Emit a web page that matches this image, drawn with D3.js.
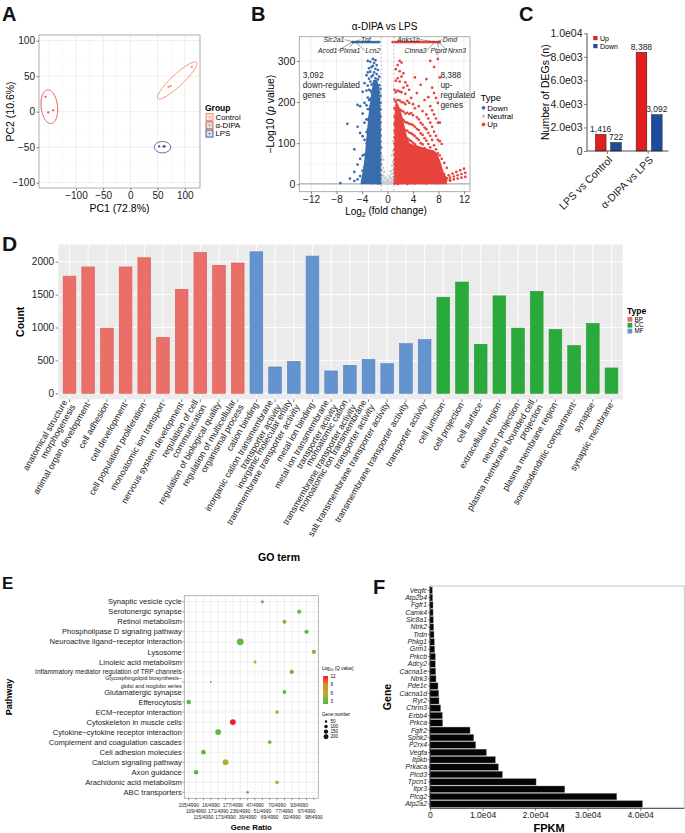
<!DOCTYPE html>
<html>
<head>
<meta charset="utf-8">
<script src="https://cdn.jsdelivr.net/npm/d3@7"></script>
<style>
  body { margin: 0; background: #fff; }
  svg { display: block; font-family: "Liberation Sans", Arial, Helvetica, sans-serif; }
</style>
</head>
<body>
<svg id="fig" width="685" height="833"></svg>
<script>
// ---------------- A: PCA ----------------
const pcaGroups = ["Control", "α-DIPA", "LPS"];
const pcaSampleGroup = ["Control", "Control", "Control", "α-DIPA", "α-DIPA", "α-DIPA", "LPS", "LPS", "LPS"];
const pcaPC1 = [113, 70, 74, -156, -151, -142, 53, 61, 63];
const pcaPC2 = [63, 35, 36, 21, -1, 2, -49, -49, -49];
// group ellipses (PC units): centre, semi axes, angle
const ellCentrePC1 = [86, -149, 59];
const ellCentrePC2 = [44, 7, -50];
const ellSemiMajor = [44, 24, 15];
const ellSemiMinor = [9, 15, 8];
const ellAngle = [35, 100, 0];

// ---------------- B: volcano ----------------
// columns of points: [log2 fold change, [-log10 p values]]
const downCols = [
  [-1.1, [3, 12, 22, 35, 48, 60, 75, 90, 104, 118, 133, 150, 165, 182, 198, 215, 232]],
  [-1.3, [6, 17, 28, 41, 55, 68, 82, 97, 112, 127, 141, 157, 173, 189, 206, 224, 241, 262]],
  [-1.5, [2, 14, 25, 37, 51, 64, 79, 93, 108, 122, 137, 152, 168, 185, 201, 219, 236, 255, 278]],
  [-1.7, [9, 20, 32, 45, 58, 72, 86, 101, 116, 130, 146, 161, 177, 194, 210, 228, 247, 268, 290]],
  [-1.9, [4, 15, 27, 40, 53, 67, 81, 95, 110, 125, 139, 155, 171, 187, 204, 221, 239, 258, 281, 302]],
  [-2.1, [11, 23, 36, 49, 62, 77, 91, 106, 120, 135, 150, 166, 182, 199, 216, 233, 251, 272, 295]],
  [-2.3, [7, 19, 31, 44, 57, 71, 85, 99, 114, 129, 144, 160, 176, 192, 209, 226, 245, 265, 288, 305]],
  [-2.5, [3, 16, 29, 43, 59, 74, 90, 105, 121, 137, 153, 170, 187, 205, 223, 242, 262, 285]],
  [-2.7, [10, 24, 38, 53, 69, 85, 101, 118, 135, 152, 170, 189, 208, 228, 250, 274, 298]],
  [-2.9, [6, 20, 35, 51, 68, 86, 104, 123, 142, 162, 183, 205, 230, 257, 282]],
  [-3.1, [13, 30, 48, 67, 88, 110, 133, 157, 183, 211, 240, 272, 300]],
  [-3.3, [8, 27, 49, 73, 99, 127, 158, 192, 228, 265]],
  [-3.6, [15, 41, 72, 108, 150, 198, 246]],
  [-3.9, [5, 33, 70, 117, 172, 225]],
  [-4.3, [20, 62, 125, 190]],
  [-4.7, [12, 48, 140, 193]],
  [-5.2, [8, 30, 85]],
  [-5.9, [14]],
  [-6.3, [147]],
  [-7.4, [3]]
];
const upCols = [
  [1.1, [2, 10, 19, 28, 38, 49, 60, 72, 85, 99, 114, 130, 147, 165, 185, 206, 230]],
  [1.3, [5, 14, 24, 34, 45, 56, 68, 81, 95, 110, 126, 143, 161, 180, 201, 224, 252, 280]],
  [1.6, [1, 9, 18, 27, 37, 48, 59, 71, 84, 98, 113, 129, 146, 164, 184, 205, 228, 258, 290]],
  [1.9, [6, 15, 25, 35, 46, 57, 69, 82, 96, 111, 127, 144, 162, 182, 204, 226, 250, 275, 300]],
  [2.2, [3, 12, 22, 32, 43, 54, 66, 79, 93, 108, 124, 141, 159, 179, 200, 224, 262, 296]],
  [2.5, [8, 17, 27, 38, 50, 62, 75, 89, 104, 120, 137, 156, 177, 199, 235, 270]],
  [2.8, [4, 13, 23, 34, 45, 57, 70, 84, 99, 115, 132, 151, 172, 195, 220, 248]],
  [3.1, [1, 10, 20, 30, 41, 53, 66, 80, 95, 112, 130, 150, 174, 203, 240]],
  [3.4, [6, 15, 26, 37, 49, 62, 76, 91, 108, 126, 147, 171, 198, 230]],
  [3.7, [3, 12, 22, 33, 45, 58, 72, 88, 105, 124, 146, 173, 210]],
  [4.0, [8, 18, 29, 41, 54, 68, 84, 101, 121, 144, 168, 195]],
  [4.3, [2, 13, 24, 36, 49, 63, 79, 97, 117, 140, 185, 260]],
  [4.6, [7, 18, 30, 43, 57, 73, 91, 112, 135, 163, 222]],
  [4.9, [4, 14, 26, 39, 53, 69, 87, 108, 132, 158, 190]],
  [5.2, [9, 20, 33, 47, 62, 80, 100, 124, 150, 242]],
  [5.5, [3, 15, 28, 42, 58, 76, 97, 120, 145, 178]],
  [5.8, [8, 21, 35, 51, 68, 88, 112, 138, 205]],
  [6.1, [2, 14, 28, 44, 62, 82, 106, 134, 170, 256]],
  [6.4, [6, 20, 36, 54, 74, 98, 125, 160, 212]],
  [6.7, [10, 26, 44, 65, 90, 118, 150, 190, 300]],
  [7.0, [4, 18, 35, 56, 80, 108, 140, 180, 235]],
  [7.3, [9, 25, 45, 68, 95, 128, 170, 222, 285]],
  [7.6, [3, 17, 36, 58, 85, 118, 160, 210]],
  [7.9, [8, 26, 48, 75, 108, 150, 198, 305]],
  [8.2, [5, 20, 42, 70, 105, 150, 260]],
  [8.5, [12, 34, 62, 98]],
  [8.9, [7, 25, 52]],
  [9.3, [15, 40]],
  [9.8, [9]]
];
const upTail = [
  [8.6, 6], [9.2, 8], [9.8, 10], [10.4, 12], [11.0, 14], [11.6, 16], [12.2, 18],
  [8.6, 10], [9.2, 13], [9.8, 16], [10.4, 19], [11.0, 22], [11.6, 25], [12.2, 28],
  [8.4, 14], [9.0, 18], [9.6, 22], [10.2, 26], [10.8, 30], [11.4, 34], [12.0, 38]
];
const neutralCols = [
  [-0.9, [4, 18, 33, 50, 68, 88]], [-0.7, [8, 22, 40, 60]], [-0.5, [3, 14, 30]],
  [-0.3, [6, 16]], [-0.1, [2, 9]], [0.1, [4, 11]], [0.3, [2, 8, 20]],
  [0.5, [5, 15, 32]], [0.7, [9, 25, 45, 70]], [0.9, [3, 16, 34, 55, 80, 105]]
];
// outline of the saturated (overplotted) cores of each cloud
const downCoreFC = [-4.2, -3.9, -3.6, -3.3, -3.0, -2.7, -2.4, -2.1, -1.8, -1.5, -1.2, -1.05];
const downCoreTop = [8, 30, 65, 115, 165, 205, 235, 250, 255, 245, 215, 150];
const upCoreFC = [1.05, 1.3, 1.8, 2.4, 3.0, 3.5, 4.5, 5.5, 6.5, 7.5, 8.2, 8.8, 9.3];
const upCoreTop = [150, 200, 190, 160, 120, 100, 95, 90, 85, 80, 60, 30, 10];
const capValue = 346;
const downCapX = [-5.5, -5.3, -5.05, -4.8, -4.55, -4.3, -4.1, -3.85, -3.6, -3.35, -3.1, -2.9, -2.65, -2.4, -2.2, -1.95, -1.7, -1.5, -1.3];
const upCapX = [0.8, 1.05, 1.3, 1.55, 1.8, 2.05, 2.3, 2.6, 2.85, 3.1, 3.35, 3.6, 3.9, 4.15, 4.4, 4.65, 4.9, 5.2, 5.45, 5.7, 5.95, 6.2, 6.5, 6.75, 7.0, 7.25, 7.5, 7.75, 8.0, 8.2];
const volGenes = ["Slc2a1", "Tnf", "Acod1", "Plxna1", "Lcn2", "Anks1b", "Dmd", "Ctnna3", "Ptprd", "Nrxn3"];
const volGeneFC = [-5.4, -5.2, -5.5, -5.3, -5.0, 7.5, 7.7, 7.4, 7.8, 8.0];
const volLabelFC = [-8.4, -3.4, -9.4, -5.9, -2.3, 3.3, 9.8, 4.4, 8.0, 10.9];
const volLabelP = [352, 352, 325, 325, 325, 352, 352, 325, 325, 325];
const degTypes = ["Down", "Neutral", "Up"];
const nDown = 3092, nUp = 8388;

// ---------------- C: DEG counts ----------------
const degComparisons = ["LPS vs Control", "α-DIPA vs LPS"];
const degDirections = ["Up", "Down"];
const degUp = [1416, 8388];
const degDown = [722, 3092];

// ---------------- D: GO terms ----------------
const goTerms = [
  "anatomical structure\nmorphogenesis", "animal organ development", "cell adhesion", "cell development",
  "cell population proliferation", "monoatomic ion transport", "nervous system development",
  "regulation of cell\ncommunication", "regulation of biological quality", "regulation of multicellular\norganismal process",
  "cation binding", "inorganic cation transmembrane\ntransporter activity", "inorganic molecular entity\ntransmembrane transporter activity",
  "metal ion binding", "metal ion transmembrane\ntransporter activity", "monoatomic cation\ntransmembrane transporter activity",
  "monoatomic ion transmembrane\ntransporter activity", "salt transmembrane transporter activity",
  "transmembrane transporter activity", "transporter activity",
  "cell junction", "cell projection", "cell surface", "extracellular region", "neuron projection",
  "plasma membrane bounded cell\nprojection", "plasma membrane region", "somatodendritic compartment", "synapse", "synaptic membrane"
];
const goCounts = [1780, 1920, 990, 1920, 2060, 850, 1580, 2140, 1945, 1980,
                  2150, 400, 485, 2085, 340, 425, 515, 450, 755, 815,
                  1460, 1690, 745, 1480, 990, 1550, 970, 725, 1060, 385];
const goTypes = ["BP", "BP", "BP", "BP", "BP", "BP", "BP", "BP", "BP", "BP",
                 "MF", "MF", "MF", "MF", "MF", "MF", "MF", "MF", "MF", "MF",
                 "CC", "CC", "CC", "CC", "CC", "CC", "CC", "CC", "CC", "CC"];
const goTypeLevels = ["BP", "CC", "MF"];

// ---------------- E: KEGG enrichment ----------------
const keggPathways = [
  "Synaptic vesicle cycle", "Serotonergic synapse", "Retinol metabolism", "Phospholipase D signaling pathway",
  "Neuroactive ligand−receptor interaction", "Lysosome", "Linoleic acid metabolism",
  "Inflammatory mediator regulation of TRP channels", "Glycosphingolipid biosynthesis−\nglobo and isoglobo series",
  "Glutamatergic synapse", "Efferocytosis", "ECM−receptor interaction", "Cytoskeleton in muscle cells",
  "Cytokine−cytokine receptor interaction", "Complement and coagulation cascades", "Cell adhesion molecules",
  "Calcium signaling pathway", "Axon guidance", "Arachidonic acid metabolism", "ABC transporters"
];
const keggGenes = [51, 93, 77, 97, 236, 98, 47, 92, 16, 77, 105, 70, 177, 171, 69, 115, 173, 109, 70, 39];
const keggLogQ = [2.3, 2.6, 4.2, 2.8, 2.9, 4.0, 5.5, 3.0, 2.0, 2.8, 2.4, 5.2, 12.3, 2.6, 3.3, 2.6, 6.0, 2.5, 5.3, 2.4];
const keggBackground = 4990;
const keggRatioLevels = ["105/4990", "109/4990", "115/4990", "16/4990", "171/4990", "173/4990", "177/4990",
  "236/4990", "39/4990", "47/4990", "51/4990", "69/4990", "70/4990", "77/4990", "92/4990", "93/4990", "97/4990", "98/4990"];
const keggSizeBreaks = [50, 100, 150, 200];
const keggColourBreaks = [3, 6, 9, 12];

// ---------------- F: FPKM ----------------
const fpkmGenes = ["Vegfc", "Atp2b4", "Fgfr1", "Camk4", "Slc8a1", "Ntrk2", "Trdn", "Phkg1", "Grm1", "Prkcb",
  "Adcy2", "Cacna1e", "Ntrk3", "Pde1c", "Cacna1d", "Ryr2", "Chrm3", "Erbb4", "Prkca", "Fgfr2",
  "Sphk2", "P2rx4", "Vegfa", "Itpkb", "Prkaca", "Plcd3", "Tpcn1", "Itpr3", "Plcg2", "Atp2a2"];
const fpkmValues = [450, 500, 570, 580, 630, 700, 760, 825, 890, 1010,
  1010, 1080, 1140, 1520, 1650, 1715, 2030, 2350, 2410, 7620,
  8320, 8700, 10730, 12440, 13020, 13780, 20190, 25650, 35550, 40440];

// =====================================================================
const svg = d3.select("#fig");
svg.append("rect").attr("width", 685).attr("height", 833).attr("fill", "#fff");

function panelLetter(t, x, y, size) {
  svg.append("text").attr("x", x).attr("y", y).text(t)
    .style("font-size", size + "px").style("font-weight", "bold").attr("fill", "#111");
}
function styleAxis(g, size) {
  g.attr("font-family", null).attr("font-size", null);
  g.select(".domain").remove();
  g.selectAll(".tick line").attr("stroke", "#333").attr("stroke-width", 0.6);
  g.selectAll(".tick text").style("font-size", size + "px").attr("fill", "#222");
}
function gridLines(g, xs, ys, xVals, yVals, x0, x1, y0, y1, colour, w) {
  g.selectAll(null).data(xVals).enter().append("line")
    .attr("x1", d => xs(d)).attr("x2", d => xs(d)).attr("y1", y0).attr("y2", y1)
    .attr("stroke", colour).attr("stroke-width", w);
  g.selectAll(null).data(yVals).enter().append("line")
    .attr("y1", d => ys(d)).attr("y2", d => ys(d)).attr("x1", x0).attr("x2", x1)
    .attr("stroke", colour).attr("stroke-width", w);
}

// ---------------- A ----------------
(function () {
  const L = 39, R = 200, T = 35, B = 188;
  const x = d3.scaleLinear().domain([-168, 128]).range([L, R]);
  const y = d3.scaleLinear().domain([-107.5, 108]).range([B, T]);
  const col = d3.scaleOrdinal().domain(pcaGroups).range(["#F4895D", "#E8464B", "#3C4B8D"]);
  const keyFill = d3.scaleOrdinal().domain(pcaGroups).range(["#FBE2D7", "#CDE9DC", "#DCE0F1"]);
  const g = svg.append("g");

  g.append("rect").attr("x", L).attr("y", T).attr("width", R - L).attr("height", B - T).attr("fill", "#fff");
  gridLines(g, x, y, [-150, -125, -75, -25, 25, 75, 125], [-75, -25, 25, 75], L, R, T, B, "#f3f3f3", 0.5);
  gridLines(g, x, y, [-100, -50, 0, 50, 100], [-100, -50, 0, 50, 100], L, R, T, B, "#e6e6e6", 0.7);

  pcaGroups.forEach((grp, i) => {
    const th = ellAngle[i] * Math.PI / 180, pts = [];
    for (let k = 0; k <= 90; k++) {
      const t = k / 90 * 2 * Math.PI;
      const a = ellSemiMajor[i] * Math.cos(t), b = ellSemiMinor[i] * Math.sin(t);
      pts.push([x(ellCentrePC1[i] + a * Math.cos(th) - b * Math.sin(th)),
                y(ellCentrePC2[i] + a * Math.sin(th) + b * Math.cos(th))]);
    }
    g.append("path").attr("d", d3.line()(pts)).attr("fill", "none")
      .attr("stroke", col(grp)).attr("stroke-width", 0.9);
  });

  g.selectAll("circle.pt").data(pcaPC1).enter().append("circle")
    .attr("cx", (d, i) => x(d)).attr("cy", (d, i) => y(pcaPC2[i])).attr("r", 1.1)
    .attr("fill", (d, i) => col(pcaSampleGroup[i]));

  g.append("rect").attr("x", L).attr("y", T).attr("width", R - L).attr("height", B - T)
    .attr("fill", "none").attr("stroke", "#9a9a9a").attr("stroke-width", 0.8);

  const ax = g.append("g").attr("transform", `translate(0,${B})`)
    .call(d3.axisBottom(x).tickValues([-100, -50, 0, 50, 100]).tickSize(2.5).tickPadding(1.5));
  styleAxis(ax, 10);
  const ay = g.append("g").attr("transform", `translate(${L},0)`)
    .call(d3.axisLeft(y).tickValues([-100, -50, 0, 50, 100]).tickSize(2.5).tickPadding(1.5));
  styleAxis(ay, 10);

  g.append("text").attr("x", (L + R) / 2).attr("y", 212).attr("text-anchor", "middle")
    .style("font-size", "10.5px").text("PC1 (72.8%)");
  g.append("text").attr("transform", `translate(14,${(T + B) / 2}) rotate(-90)`).attr("text-anchor", "middle")
    .style("font-size", "10.5px").text("PC2 (10.6%)");

  g.append("text").attr("x", 205).attr("y", 111).style("font-size", "8.5px").style("font-weight", "bold").text("Group");
  pcaGroups.forEach((grp, i) => {
    const yy = 113.5 + i * 8.3;
    g.append("rect").attr("x", 206).attr("y", yy).attr("width", 7).attr("height", 7)
      .attr("fill", keyFill(grp)).attr("stroke", col(grp)).attr("stroke-width", 0.9);
    g.append("circle").attr("cx", 209.5).attr("cy", yy + 3.5).attr("r", 0.8).attr("fill", col(grp));
    g.append("text").attr("x", 215.5).attr("y", yy + 3.5).attr("dy", "0.35em")
      .style("font-size", "7.8px").text(grp);
  });
  panelLetter("A", 2, 21, 20);
})();

// ---------------- B ----------------
(function () {
  const L = 299.3, R = 470, T = 36.7, B = 191.7;
  const x = d3.scaleLinear().domain([-13.84, 12.94]).range([L, R]);
  const y = d3.scaleLinear().domain([-18, 359]).range([B, T]);
  const col = d3.scaleOrdinal().domain(degTypes).range(["#3A6DAE", "#C8CDD5", "#E8433D"]);
  const g = svg.append("g");

  g.append("defs").append("clipPath").attr("id", "clipB").append("rect")
    .attr("x", L).attr("y", T).attr("width", R - L).attr("height", B - T);
  g.append("rect").attr("x", L).attr("y", T).attr("width", R - L).attr("height", B - T).attr("fill", "#fff");
  gridLines(g, x, y, [-10, -6, -2, 2, 6, 10], [50, 150, 250, 350], L, R, T, B, "#f3f3f3", 0.5);
  gridLines(g, x, y, [-12, -8, -4, 0, 4, 8, 12], [0, 100, 200, 300], L, R, T, B, "#e6e6e6", 0.7);

  const flat = cols => cols.flatMap(c => c[1].map(v => [c[0], v]));
  const pts = [];
  flat(neutralCols).forEach(p => pts.push({ fc: p[0], p: p[1], t: "Neutral" }));
  flat(downCols).forEach(p => pts.push({ fc: p[0], p: p[1], t: "Down" }));
  flat(upCols).forEach(p => pts.push({ fc: p[0], p: p[1], t: "Up" }));
  upTail.forEach(p => pts.push({ fc: p[0], p: p[1], t: "Up" }));
  downCapX.forEach(v => pts.push({ fc: v, p: capValue, t: "Down" }));
  upCapX.forEach(v => pts.push({ fc: v, p: capValue, t: "Up" }));

  const pg = g.append("g").attr("clip-path", "url(#clipB)");
  pg.append("line").attr("x1", L).attr("x2", R).attr("y1", y(1.3)).attr("y2", y(1.3))
    .attr("stroke", "#b9bec6").attr("stroke-width", 1.6);
  const core = d3.area().x(d => x(d[0])).y0(y(0)).y1(d => y(d[1])).curve(d3.curveMonotoneX);
  pg.append("path").attr("d", core(downCoreFC.map((v, i) => [v, downCoreTop[i]])))
    .attr("fill", col("Down"));
  pg.append("path").attr("d", core(upCoreFC.map((v, i) => [v, upCoreTop[i]])))
    .attr("fill", col("Up"));
  pg.selectAll("circle").data(pts).enter().append("circle")
    .attr("cx", d => x(d.fc)).attr("cy", d => y(d.p)).attr("r", 1.35)
    .attr("fill", d => col(d.t));
  [-1, 1].forEach(v => pg.append("line").attr("x1", x(v)).attr("x2", x(v)).attr("y1", T).attr("y2", B)
    .attr("stroke", "#8a8a8a").attr("stroke-width", 0.6).attr("stroke-dasharray", "2,2"));

  // gene labels with leader lines
  volGenes.forEach((gn, i) => {
    const t = g.append("text").attr("x", x(volLabelFC[i])).attr("y", y(volLabelP[i])).attr("dy", "0.35em")
      .attr("text-anchor", "middle").style("font-size", "6.8px").style("font-style", "italic")
      .attr("fill", "#222").text(gn);
    const w = t.node().getComputedTextLength();
    const lx = x(volLabelFC[i]), ly = y(volLabelP[i]);
    const px = x(volGeneFC[i]), py = y(capValue);
    let sx, sy;
    if (px > lx + w / 2) { sx = lx + w / 2 + 0.5; sy = ly; }
    else if (px < lx - w / 2) { sx = lx - w / 2 - 0.5; sy = ly; }
    else { sx = lx; sy = ly + (py > ly ? 3.5 : -3.5); }
    g.append("line").attr("x1", sx).attr("y1", sy).attr("x2", px).attr("y2", py)
      .attr("stroke", "#444").attr("stroke-width", 0.5);
  });

  const noteL = g.append("text").attr("x", x(-13.3)).attr("y", y(266)).style("font-size", "8.3px").attr("fill", "#222");
  [d3.format(",")(nDown), "down-regulated", "genes"].forEach((s, i) =>
    noteL.append("tspan").attr("x", x(-13.3)).attr("dy", i ? "1.2em" : "0.35em").text(s));
  const noteR = g.append("text").attr("x", x(8.3)).attr("y", y(266)).style("font-size", "8.3px").attr("fill", "#222");
  [d3.format(",")(nUp), "up-", "regulated", "genes"].forEach((s, i) =>
    noteR.append("tspan").attr("x", x(8.3)).attr("dy", i ? "1.2em" : "0.35em").text(s));

  g.append("rect").attr("x", L).attr("y", T).attr("width", R - L).attr("height", B - T)
    .attr("fill", "none").attr("stroke", "#9a9a9a").attr("stroke-width", 0.8);
  const ax = g.append("g").attr("transform", `translate(0,${B})`)
    .call(d3.axisBottom(x).tickValues([-12, -8, -4, 0, 4, 8, 12]).tickSize(2.5).tickPadding(1.5));
  styleAxis(ax, 10);
  const ay = g.append("g").attr("transform", `translate(${L},0)`)
    .call(d3.axisLeft(y).tickValues([0, 100, 200, 300]).tickSize(2.5).tickPadding(1.5));
  styleAxis(ay, 10.5);

  g.append("text").attr("x", (L + R) / 2).attr("y", 30).attr("text-anchor", "middle")
    .style("font-size", "10px").text("α-DIPA vs LPS");
  const xt = g.append("text").attr("x", 386).attr("y", 215).attr("text-anchor", "middle").style("font-size", "10px");
  xt.append("tspan").text("Log");
  xt.append("tspan").attr("dy", "0.3em").style("font-size", "7px").text("2");
  xt.append("tspan").attr("dy", "-0.3em").text(" (fold change)");
  const yt = g.append("text").attr("transform", `translate(274,${(T + B) / 2}) rotate(-90)`)
    .attr("text-anchor", "middle").style("font-size", "10.5px");
  yt.append("tspan").text("−Log10 (");
  yt.append("tspan").style("font-style", "italic").text("p");
  yt.append("tspan").text(" value)");

  g.append("text").attr("x", 480.5).attr("y", 101).style("font-size", "9.5px").text("Type");
  degTypes.forEach((t, i) => {
    const yy = 107.8 + i * 8.3;
    g.append("circle").attr("cx", 483.5).attr("cy", yy).attr("r", 1.9).attr("fill", col(t));
    g.append("text").attr("x", 487.3).attr("y", yy).attr("dy", "0.35em").style("font-size", "8px").text(t);
  });
  panelLetter("B", 251, 21, 20);
})();

// ---------------- C ----------------
(function () {
  const L = 587, R = 668.5, T = 33.3, B = 151;
  const x = d3.scalePoint().domain(degComparisons).range([L, R]).padding(0.5);
  const sub = d3.scaleBand().domain(degDirections).range([-12, 14]).paddingInner(0.3);
  const y = d3.scaleLinear().domain([0, 10000]).range([B, T]);
  const col = d3.scaleOrdinal().domain(degDirections).range(["#E11F1F", "#1D4C9D"]);
  const g = svg.append("g");
  const rows = degComparisons.flatMap((c, i) => [
    { c: c, dir: "Up", v: degUp[i] }, { c: c, dir: "Down", v: degDown[i] }]);

  g.selectAll("rect.bar").data(rows).enter().append("rect")
    .attr("x", d => x(d.c) + sub(d.dir)).attr("width", sub.bandwidth())
    .attr("y", d => y(d.v)).attr("height", d => B - y(d.v))
    .attr("fill", d => col(d.dir)).attr("stroke", "#222").attr("stroke-width", 0.5);
  g.selectAll("text.val").data(rows).enter().append("text")
    .attr("x", d => x(d.c) + sub(d.dir) + sub.bandwidth() / 2).attr("y", d => y(d.v) - 2.3)
    .attr("text-anchor", "middle").style("font-size", "8.5px").attr("fill", "#222")
    .text(d => d3.format(",")(d.v));

  const fmt = d => d === 0 ? "0" : d.toExponential(1).replace("e+", "e0");
  const ay = g.append("g").attr("transform", `translate(${L},0)`)
    .call(d3.axisLeft(y).tickValues([0, 2000, 4000, 6000, 8000, 10000]).tickFormat(fmt).tickSize(3).tickPadding(1.5));
  styleAxis(ay, 10.5);
  g.append("line").attr("x1", L).attr("x2", L).attr("y1", T).attr("y2", B).attr("stroke", "#222").attr("stroke-width", 0.8);
  g.append("line").attr("x1", L).attr("x2", R).attr("y1", B).attr("y2", B).attr("stroke", "#222").attr("stroke-width", 0.8);
  degComparisons.forEach(c => {
    g.append("line").attr("x1", x(c)).attr("x2", x(c)).attr("y1", B).attr("y2", B + 3).attr("stroke", "#333").attr("stroke-width", 0.6);
    g.append("text").attr("transform", `translate(${x(c) + 3},${B + 7}) rotate(-45)`)
      .attr("text-anchor", "end").attr("dy", "0.35em").style("font-size", "10.5px").attr("fill", "#222").text(c);
  });
  g.append("text").attr("transform", `translate(549,${(T + B) / 2}) rotate(-90)`).attr("text-anchor", "middle")
    .style("font-size", "10.5px").text("Number of DEGs (n)");
  degDirections.forEach((d, i) => {
    g.append("rect").attr("x", 593.3).attr("y", 36 + i * 8).attr("width", 4.2).attr("height", 4.2).attr("fill", col(d));
    g.append("text").attr("x", 600).attr("y", 38.1 + i * 8).attr("dy", "0.35em").style("font-size", "7px").text(d);
  });
  panelLetter("C", 519, 21, 20);
})();

// ---------------- D ----------------
(function () {
  const L = 58.3, R = 622.7, T = 244.3, B = 399.3;
  const x = d3.scaleBand().domain(goTerms).range([L, R]).paddingInner(0.32).paddingOuter(0.26);
  const y = d3.scaleLinear().domain([-91, 2264]).range([B, T]);
  const col = d3.scaleOrdinal().domain(goTypeLevels).range(["#EA6F68", "#2BAA3C", "#6394CF"]);
  const edge = d3.scaleOrdinal().domain(goTypeLevels).range(["#DD5B54", "#229A33", "#4F80C2"]);
  const g = svg.append("g");

  g.append("rect").attr("x", L).attr("y", T).attr("width", R - L).attr("height", B - T).attr("fill", "#EBEBEB");
  g.selectAll("line.hmin").data([250, 750, 1250, 1750, 2250]).enter().append("line")
    .attr("x1", L).attr("x2", R).attr("y1", d => y(d)).attr("y2", d => y(d)).attr("stroke", "#f5f5f5").attr("stroke-width", 0.5);
  g.selectAll("line.hmaj").data([0, 500, 1000, 1500, 2000]).enter().append("line")
    .attr("x1", L).attr("x2", R).attr("y1", d => y(d)).attr("y2", d => y(d)).attr("stroke", "#fff").attr("stroke-width", 0.9);
  g.selectAll("line.vmaj").data(goTerms).enter().append("line")
    .attr("x1", d => x(d) + x.bandwidth() / 2).attr("x2", d => x(d) + x.bandwidth() / 2)
    .attr("y1", T).attr("y2", B).attr("stroke", "#fff").attr("stroke-width", 0.9);

  g.selectAll("rect.bar").data(goTerms).enter().append("rect")
    .attr("x", d => x(d)).attr("width", x.bandwidth())
    .attr("y", (d, i) => y(goCounts[i])).attr("height", (d, i) => y(0) - y(goCounts[i]))
    .attr("fill", (d, i) => col(goTypes[i])).attr("stroke", (d, i) => edge(goTypes[i])).attr("stroke-width", 0.6);

  const ay = g.append("g").attr("transform", `translate(${L},0)`)
    .call(d3.axisLeft(y).tickValues([0, 500, 1000, 1500, 2000]).tickFormat(d3.format("d")).tickSize(2.7).tickPadding(1.5));
  styleAxis(ay, 10);

  goTerms.forEach(t => {
    const cx = x(t) + x.bandwidth() / 2;
    g.append("line").attr("x1", cx).attr("x2", cx).attr("y1", B).attr("y2", B + 2.7).attr("stroke", "#333").attr("stroke-width", 0.6);
    const lines = t.split("\n");
    const tx = g.append("text").attr("transform", `translate(${cx - 0.5},${B + 3.5}) rotate(-60)`)
      .attr("text-anchor", "end").style("font-size", "8.9px").attr("fill", "#222");
    lines.forEach((s, i) => tx.append("tspan").attr("x", 0)
      .attr("y", 0).attr("dy", ((i - (lines.length - 1) / 2) * 1.05 + 0.35) + "em").text(s));
  });

  g.append("text").attr("transform", `translate(24,${(T + B) / 2}) rotate(-90)`).attr("text-anchor", "middle")
    .style("font-size", "10.5px").style("font-weight", "bold").text("Count");
  g.append("text").attr("x", 279).attr("y", 561).attr("text-anchor", "middle")
    .style("font-size", "10.5px").style("font-weight", "bold").text("GO term");

  g.append("text").attr("x", 627).attr("y", 313.5).style("font-size", "8.5px").style("font-weight", "bold").text("Type");
  goTypeLevels.forEach((t, i) => {
    const yy = 319.3 + i * 5.9;
    g.append("rect").attr("x", 627.5).attr("y", yy - 2.4).attr("width", 4.8).attr("height", 4.8).attr("fill", col(t));
    g.append("text").attr("x", 634.5).attr("y", yy).attr("dy", "0.35em").style("font-size", "6.3px").text(t);
  });
  panelLetter("D", 2, 251, 21);
})();

// ---------------- E ----------------
(function () {
  const L = 184.3, R = 318.3, T = 595.7, B = 798.3;
  const x = d3.scalePoint().domain(keggRatioLevels).range([L, R]).padding(0.6);
  const y = d3.scalePoint().domain(keggPathways).range([T, B]).padding(0.6);
  const r = d3.scaleSqrt().domain([0, 240]).range([0, 3.4]);
  const col = d3.scaleLinear().domain([2, 5.5, 9, 12.3]).range(["#4DB748", "#A9B52B", "#E8892A", "#EE1D24"]);
  const g = svg.append("g");

  g.append("rect").attr("x", L).attr("y", T).attr("width", R - L).attr("height", B - T).attr("fill", "#fff");
  g.selectAll("line.v").data(keggRatioLevels).enter().append("line")
    .attr("x1", d => x(d)).attr("x2", d => x(d)).attr("y1", T).attr("y2", B).attr("stroke", "#e9e9e9").attr("stroke-width", 0.7);
  g.selectAll("line.h").data(keggPathways).enter().append("line")
    .attr("y1", d => y(d)).attr("y2", d => y(d)).attr("x1", L).attr("x2", R).attr("stroke", "#e9e9e9").attr("stroke-width", 0.7);

  g.selectAll("circle").data(keggPathways).enter().append("circle")
    .attr("cx", (d, i) => x(keggGenes[i] + "/" + keggBackground)).attr("cy", d => y(d))
    .attr("r", (d, i) => r(keggGenes[i])).attr("fill", (d, i) => col(keggLogQ[i]));

  g.append("rect").attr("x", L).attr("y", T).attr("width", R - L).attr("height", B - T)
    .attr("fill", "none").attr("stroke", "#a0a0a0").attr("stroke-width", 0.8);

  keggPathways.forEach(p => {
    g.append("line").attr("x1", L - 2).attr("x2", L).attr("y1", y(p)).attr("y2", y(p)).attr("stroke", "#444").attr("stroke-width", 0.5);
    const lines = p.split("\n");
    const fs = lines.length > 1 ? 5.4 : (p.length > 42 ? 6.6 : 7.6);
    const tx = g.append("text").attr("x", L - 2.5).attr("y", y(p)).attr("text-anchor", "end")
      .style("font-size", fs + "px").attr("fill", "#1a1a1a");
    lines.forEach((s, i) => tx.append("tspan").attr("x", L - 2.5)
      .attr("dy", i === 0 ? ((-(lines.length - 1) / 2) * 1.4 + 0.35) + "em" : "1.4em").text(s));
  });
  keggRatioLevels.forEach((lv, i) => {
    g.append("line").attr("x1", x(lv)).attr("x2", x(lv)).attr("y1", B).attr("y2", B + 2).attr("stroke", "#444").attr("stroke-width", 0.5);
    g.append("text").attr("x", x(lv)).attr("y", B + 7 + (i % 3) * 6.2).attr("text-anchor", "middle")
      .attr("dy", "0.35em").style("font-size", "4.9px").attr("fill", "#222").text(lv);
  });
  g.append("text").attr("x", (L + R) / 2).attr("y", 829.5).attr("text-anchor", "middle")
    .style("font-size", "7.8px").style("font-weight", "bold").text("Gene Ratio");
  g.append("text").attr("transform", `translate(12,${(T + B) / 2}) rotate(-90)`).attr("text-anchor", "middle")
    .style("font-size", "9px").style("font-weight", "bold").text("Pathway");

  // legends
  const lt = g.append("text").attr("x", 322).attr("y", 670).style("font-size", "4.6px");
  lt.append("tspan").text("Log");
  lt.append("tspan").attr("dy", "0.3em").style("font-size", "3.4px").text("10");
  lt.append("tspan").attr("dy", "-0.3em").text(" (Q value)");
  const cb = d3.scaleLinear().domain([1.9, 12.3]).range([704, 676]);
  const grad = g.append("defs").append("linearGradient").attr("id", "gradE")
    .attr("x1", 0).attr("x2", 0).attr("y1", 1).attr("y2", 0);
  [2, 5.5, 9, 12.3].forEach(v => grad.append("stop")
    .attr("offset", (v - 1.9) / (12.3 - 1.9)).attr("stop-color", col(v)));
  g.append("rect").attr("x", 323).attr("y", 676).attr("width", 5).attr("height", 28).attr("fill", "url(#gradE)");
  keggColourBreaks.forEach(v => {
    g.append("line").attr("x1", 323).attr("x2", 324).attr("y1", cb(v)).attr("y2", cb(v)).attr("stroke", "#fff").attr("stroke-width", 0.4);
    g.append("text").attr("x", 330.5).attr("y", cb(v)).attr("dy", "0.35em").style("font-size", "4.6px").text(v);
  });
  g.append("text").attr("x", 322).attr("y", 715.5).style("font-size", "4.6px").text("Gene number");
  keggSizeBreaks.forEach((v, i) => {
    const yy = 721.5 + i * 5.1;
    g.append("circle").attr("cx", 326).attr("cy", yy).attr("r", r(v) * 0.8).attr("fill", "#111");
    g.append("text").attr("x", 330.5).attr("y", yy).attr("dy", "0.35em").style("font-size", "4.6px").text(v);
  });
  panelLetter("E", 2, 589, 17);
})();

// ---------------- F ----------------
(function () {
  const L = 430, R = 684.3, T = 586, B = 808.3;
  const y = d3.scaleBand().domain(fpkmGenes).range([T, B]).paddingInner(0.12).paddingOuter(0.15);
  const x = d3.scaleLinear().domain([0, 48400]).range([L, R]);
  const g = svg.append("g");

  g.append("rect").attr("x", L).attr("y", T).attr("width", R - L).attr("height", B - T)
    .attr("fill", "#fff").attr("stroke", "#c8c8c8").attr("stroke-width", 1);
  g.selectAll("rect.bar").data(fpkmGenes).enter().append("rect")
    .attr("x", L).attr("y", d => y(d)).attr("height", y.bandwidth())
    .attr("width", (d, i) => x(fpkmValues[i]) - L)
    .attr("fill", "#050505").attr("stroke", "#8a8a8a").attr("stroke-width", 0.4);
  g.append("line").attr("x1", L).attr("x2", L).attr("y1", T).attr("y2", B).attr("stroke", "#222").attr("stroke-width", 0.8);
  g.append("line").attr("x1", L).attr("x2", R).attr("y1", B).attr("y2", B).attr("stroke", "#222").attr("stroke-width", 0.8);

  const fmt = d => d === 0 ? "0" : d.toExponential(1).replace("e+", "e0");
  const ax = g.append("g").attr("transform", `translate(0,${B})`)
    .call(d3.axisBottom(x).tickValues([0, 10000, 20000, 30000, 40000]).tickFormat(fmt).tickSize(2.5).tickPadding(1.2));
  styleAxis(ax, 8.6);
  const ay = g.append("g").attr("transform", `translate(${L},0)`)
    .call(d3.axisLeft(y).tickSize(2).tickPadding(1));
  styleAxis(ay, 6.9);
  ay.selectAll(".tick text").style("font-style", "italic");

  g.append("text").attr("x", (L + R) / 2 - 8).attr("y", 832).attr("text-anchor", "middle")
    .style("font-size", "11px").style("font-weight", "bold").text("FPKM");
  g.append("text").attr("transform", `translate(391,697) rotate(-90)`).attr("text-anchor", "middle")
    .style("font-size", "10.5px").style("font-weight", "bold").text("Gene");
  panelLetter("F", 373, 594, 20);
})();
</script>
</body>
</html>
